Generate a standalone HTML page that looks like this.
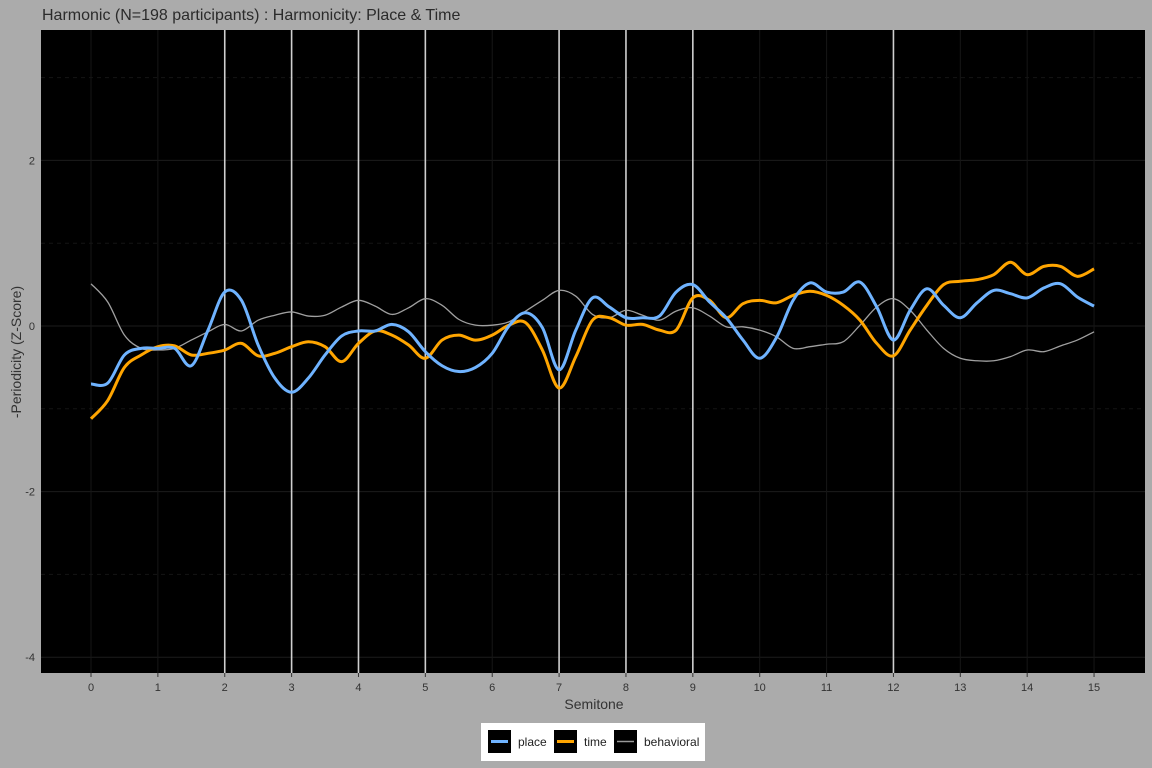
<!DOCTYPE html>
<html><head><meta charset="utf-8">
<style>
html,body{margin:0;padding:0;background:#ababab;}
svg{display:block;font-family:"Liberation Sans",sans-serif;}
</style></head>
<body>
<svg id="chart" width="1152" height="768">
<rect x="0" y="0" width="1152" height="768" fill="#ababab"/>
<text x="42" y="20" font-size="16" fill="#2b2b2b">Harmonic (N=198 participants) : Harmonicity: Place &amp; Time</text>
<rect x="41" y="30" width="1104" height="643" fill="#000"/>
<g id="grid"></g>
<g id="vlines"></g>
<g id="series"></g>
<g id="axes"></g>
<text x="594" y="709" font-size="14" fill="#333" text-anchor="middle">Semitone</text>
<text transform="translate(21,352) rotate(-90)" font-size="14" fill="#333" text-anchor="middle">-Periodicity (Z-Score)</text>
<g>
<rect x="481" y="723" width="224" height="38" fill="#fff"/>
<g>
<rect x="488" y="730" width="23" height="23" fill="#000"/><line x1="491" y1="741.5" x2="508" y2="741.5" stroke="#6fb3ff" stroke-width="3"/>
<text x="518" y="746" font-size="12" fill="#222">place</text></g>
<g>
<rect x="554" y="730" width="23" height="23" fill="#000"/><line x1="557" y1="741.5" x2="574" y2="741.5" stroke="#ffa500" stroke-width="3"/>
<text x="584" y="746" font-size="12" fill="#222">time</text></g>
<g>
<rect x="614" y="730" width="23" height="23" fill="#000"/><line x1="617" y1="741.5" x2="634" y2="741.5" stroke="#999" stroke-width="1.5"/>
<text x="644" y="746" font-size="12" fill="#222">behavioral</text></g>
</g>
</svg>
<script>
const semitones=[0,0.25,0.5,0.75,1,1.25,1.5,1.75,2,2.25,2.5,2.75,3,3.25,3.5,3.75,4,4.25,4.5,4.75,5,5.25,5.5,5.75,6,6.25,6.5,6.75,7,7.25,7.5,7.75,8,8.25,8.5,8.75,9,9.25,9.5,9.75,10,10.25,10.5,10.75,11,11.25,11.5,11.75,12,12.25,12.5,12.75,13,13.25,13.5,13.75,14,14.25,14.5,14.75,15];
const placeValues=[-0.70,-0.69,-0.35,-0.27,-0.27,-0.27,-0.48,-0.05,0.41,0.31,-0.23,-0.63,-0.80,-0.63,-0.35,-0.12,-0.06,-0.06,0.02,-0.07,-0.31,-0.48,-0.55,-0.50,-0.33,0.0,0.16,-0.02,-0.53,-0.05,0.34,0.23,0.10,0.10,0.12,0.41,0.50,0.29,0.10,-0.17,-0.39,-0.14,0.31,0.52,0.41,0.41,0.53,0.23,-0.17,0.19,0.45,0.25,0.10,0.28,0.43,0.39,0.34,0.46,0.51,0.35,0.24];
const timeValues=[-1.12,-0.90,-0.50,-0.35,-0.25,-0.24,-0.35,-0.33,-0.29,-0.21,-0.36,-0.33,-0.25,-0.19,-0.25,-0.43,-0.21,-0.06,-0.11,-0.23,-0.39,-0.17,-0.11,-0.17,-0.11,0.01,0.04,-0.29,-0.75,-0.37,0.07,0.10,0.01,0.02,-0.05,-0.05,0.34,0.31,0.10,0.27,0.31,0.28,0.37,0.42,0.37,0.25,0.07,-0.21,-0.36,-0.05,0.25,0.50,0.54,0.56,0.62,0.77,0.62,0.72,0.72,0.60,0.69];
const behavioralValues=[0.51,0.29,-0.11,-0.27,-0.29,-0.27,-0.17,-0.07,0.02,-0.06,0.07,0.13,0.17,0.12,0.13,0.23,0.31,0.24,0.14,0.22,0.33,0.25,0.08,0.01,0.01,0.05,0.18,0.31,0.43,0.36,0.14,0.10,0.19,0.13,0.07,0.18,0.22,0.12,-0.01,-0.01,-0.05,-0.13,-0.27,-0.25,-0.22,-0.19,0.01,0.23,0.33,0.19,-0.05,-0.27,-0.39,-0.42,-0.42,-0.37,-0.29,-0.31,-0.24,-0.17,-0.07];
const xTicks=[0,1,2,3,4,5,6,7,8,9,10,11,12,13,14,15];
const yTicks=[2,0,-2,-4];
const yMinor=[3,1,-1,-3];
const markedSemitones=[2,3,4,5,7,8,9,12];

const NS="http://www.w3.org/2000/svg";
const X=v=>91+v*66.87;
const Y=v=>326-v*82.8;
const PL=41,PR=1145,PT=30,PB=673;
function mk(tag,attrs,parent){const e=document.createElementNS(NS,tag);for(const k in attrs)e.setAttribute(k,attrs[k]);parent.appendChild(e);return e;}
const grid=document.getElementById('grid'),vl=document.getElementById('vlines'),ser=document.getElementById('series'),ax=document.getElementById('axes');
yMinor.forEach(v=>{const l=mk('line',{x1:PL,x2:PR,y1:Y(v),y2:Y(v),stroke:'#141414','stroke-width':1,'stroke-dasharray':'4,4'},grid);

});
yTicks.forEach(v=>{const l=mk('line',{x1:PL,x2:PR,y1:Y(v),y2:Y(v),stroke:'#1c1c1c','stroke-width':1},grid);


const t=mk('text',{x:35,y:Y(v)+4,'font-size':11,fill:'#333','text-anchor':'end'},ax);t.textContent=v;

});
xTicks.forEach(v=>{const l=mk('line',{x1:X(v),x2:X(v),y1:PT,y2:PB,stroke:'#161616','stroke-width':1},grid);


const tk=mk('line',{x1:X(v),x2:X(v),y1:PB,y2:PB+4,stroke:'#333','stroke-width':1},ax);


const t=mk('text',{x:X(v),y:691,'font-size':11,fill:'#333','text-anchor':'middle'},ax);t.textContent=v;

});
markedSemitones.forEach(v=>{const l=mk('line',{x1:X(v),x2:X(v),y1:PT,y2:PB,stroke:'#cfcfcf','stroke-width':1.6},vl);

});
function path(vals){const p=semitones.map((s,i)=>[X(s),Y(vals[i])]);let d=`M${p[0][0]},${p[0][1]}`;
for(let i=0;i<p.length-1;i++){const p0=p[i-1]||p[i],p1=p[i],p2=p[i+1],p3=p[i+2]||p2;
d+=` C${p1[0]+(p2[0]-p0[0])/6},${p1[1]+(p2[1]-p0[1])/6} ${p2[0]-(p3[0]-p1[0])/6},${p2[1]-(p3[1]-p1[1])/6} ${p2[0]},${p2[1]}`;}return d;}
const b=mk('path',{d:path(behavioralValues),fill:'none',stroke:'#a0a0a0','stroke-width':1.3},ser);


const tm=mk('path',{d:path(timeValues),fill:'none',stroke:'#ffa500','stroke-width':3},ser);


const pl=mk('path',{d:path(placeValues),fill:'none',stroke:'#6fb3ff','stroke-width':3},ser);


</script>
</body></html>
